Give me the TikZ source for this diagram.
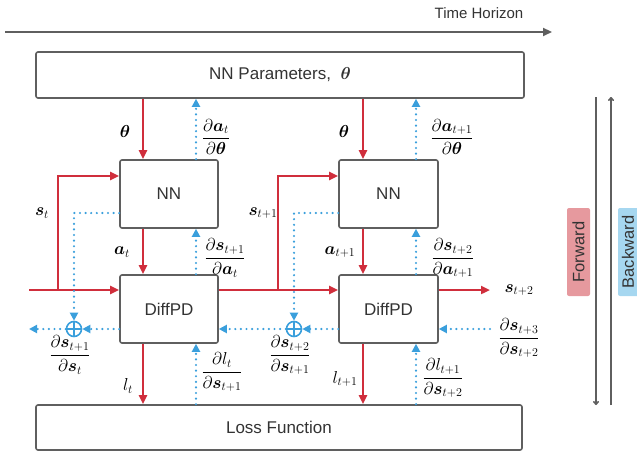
\documentclass[tikz,border=0pt]{standalone}
\usepackage{amsmath}
\usepackage{bm}
\usepackage{fontspec}
\setmainfont{Liberation Sans}
\usetikzlibrary{arrows.meta}
\definecolor{fred}{HTML}{D02E3C}
\definecolor{bblue}{HTML}{3A9FDC}
\definecolor{boxgray}{HTML}{5F5F5F}
\definecolor{txtgray}{HTML}{333333}
\definecolor{fpink}{HTML}{E6999E}
\definecolor{bsky}{HTML}{A6D7F0}
\tikzset{
  box/.style={draw=boxgray, line width=1.6pt, rounded corners=2pt, fill=white, inner sep=0pt,
    font=\fontsize{17}{19}\selectfont, text=txtgray},
  fw/.style={draw=fred, line width=2.6pt, -{Triangle[length=9pt,width=8pt]}},
  bw/.style={draw=bblue, line width=2.4pt, dash pattern=on 0pt off 5.6pt, line cap=round,
    -{Triangle[length=8pt,width=8pt]}},
  oplus/.style={circle, draw=bblue, line width=1.6pt, minimum size=15pt, inner sep=0pt,
    path picture={\draw[bblue,line width=1.6pt] (path picture bounding box.north) -- (path picture bounding box.south)
      (path picture bounding box.west) -- (path picture bounding box.east);}},
  lab/.style={font=\fontsize{17.28}{19}\selectfont, text=black, inner sep=0pt},
  dirbox/.style={rounded corners=2pt, minimum width=23pt, minimum height=88pt, inner sep=0pt},
  dirlab/.style={rotate=90, inner sep=0pt, font=\fontsize{16.5}{18}\selectfont, text=txtgray},
  timear/.style={draw=boxgray, line width=2.6pt, -{Triangle[length=9pt,width=8pt]}},
  dirar/.style={draw=boxgray, line width=1.6pt, -{To[length=4pt,width=6pt]}}
}
\begin{document}
\begin{tikzpicture}[x=1pt,y=-1pt]
\useasboundingbox (0,0) rectangle (637,452);

% time horizon
\coordinate (t0) at (5,32);
\coordinate (t1) at (552,32);
\draw[timear] (t0) -- (t1);
\node[font=\fontsize{15}{17}\selectfont, text=txtgray] (th) at (479,13) {Time Horizon};

% boxes
\node[box, minimum width=488pt, minimum height=46pt] (par) at (280,75) {NN Parameters,\; $\bm{\theta}$};
\node[box, minimum width=486pt, minimum height=45pt] (loss) at (279,427.5) {Loss Function};
\node[box, minimum width=98pt, minimum height=68pt] (nn1) at (169,194) {NN};
\node[box, minimum width=98pt, minimum height=68pt] (dp1) at (169,309) {DiffPD};
\node[box, minimum width=99pt, minimum height=68pt] (nn2) at (388.5,194) {NN};
\node[box, minimum width=99pt, minimum height=68pt] (dp2) at (388.5,309) {DiffPD};

% vertical columns
\coordinate (c1r) at (143,0);
\coordinate (c1b) at (196,0);
\coordinate (c2r) at (363,0);
\coordinate (c2b) at (416,0);

% column 1
\draw[fw] (c1r |- par.south) -- (c1r |- nn1.north);
\draw[bw] (c1b |- nn1.north) -- (c1b |- par.south);
\draw[fw] (c1r |- nn1.south) -- (c1r |- dp1.north);
\draw[bw] (c1b |- dp1.north) -- (c1b |- nn1.south);
\draw[fw] (c1r |- dp1.south) -- (c1r |- loss.north);
\draw[bw] (c1b |- loss.north) -- (c1b |- dp1.south);

% column 2
\draw[fw] (c2r |- par.south) -- (c2r |- nn2.north);
\draw[bw] (c2b |- nn2.north) -- (c2b |- par.south);
\draw[fw] (c2r |- nn2.south) -- (c2r |- dp2.north);
\draw[bw] (c2b |- dp2.north) -- (c2b |- nn2.south);
\draw[fw] (c2r |- dp2.south) -- (c2r |- loss.north);
\draw[bw] (c2b |- loss.north) -- (c2b |- dp2.south);

% forward state line
\coordinate (sin) at (29,290);
\coordinate (j1) at (58,290);
\coordinate (k1) at (58,176);
\coordinate (j2) at (278,290);
\coordinate (k2) at (278,176);
\coordinate (sout) at (490,290);
\draw[fw] (sin) -- (sin -| dp1.west);
\draw[fw] (j1) -- (k1) -- (k1 -| nn1.west);
\draw[fw] (j2 -| dp1.east) -- (j2 -| dp2.west);
\draw[fw] (j2) -- (k2) -- (k2 -| nn2.west);
\draw[fw] (sout -| dp2.east) -- (sout);

% backward
\coordinate (m1) at (74,213);
\coordinate (m2) at (294,213);
\node[oplus] (o1) at (74,329) {};
\node[oplus] (o2) at (294,329) {};
\coordinate (bout) at (29,329);
\coordinate (bin) at (490,329);
\draw[bw] (m1 -| nn1.west) -- (m1) -- (o1.north);
\draw[bw] (o1 -| dp1.west) -- (o1.east);
\draw[bw] (o1.west) -- (bout);
\draw[bw] (m2 -| nn2.west) -- (m2) -- (o2.north);
\draw[bw] (o2 -| dp2.west) -- (o2.east);
\draw[bw] (o2.west) -- (o2 -| dp1.east);
\draw[bw] (bin) -- (bin -| dp2.east);

% labels
\node[lab] (lth1) at (125,131) {$\bm{\theta}$};
\node[lab] (lda1) at (216,137) {$\dfrac{\partial \bm{a}_t}{\partial \bm{\theta}}$};
\node[lab] (lst) at (42,213) {$\bm{s}_t$};
\node[lab] (lat) at (122,252) {$\bm{a}_t$};
\node[lab] (lds1) at (225,258) {$\dfrac{\partial \bm{s}_{t+1}}{\partial \bm{a}_t}$};
\node[lab] (lss1) at (70,355) {$\dfrac{\partial \bm{s}_{t+1}}{\partial \bm{s}_t}$};
\node[lab] (llt) at (128,386) {$l_t$};
\node[lab] (ldl1) at (222,372) {$\dfrac{\partial l_t}{\partial \bm{s}_{t+1}}$};
\node[lab] (lst1) at (263,213) {$\bm{s}_{t+1}$};
\node[lab] (lss2) at (290,355) {$\dfrac{\partial \bm{s}_{t+2}}{\partial \bm{s}_{t+1}}$};
\node[lab] (lth2) at (344,131) {$\bm{\theta}$};
\node[lab] (lda2) at (452,137) {$\dfrac{\partial \bm{a}_{t+1}}{\partial \bm{\theta}}$};
\node[lab] (lat1) at (340,252) {$\bm{a}_{t+1}$};
\node[lab] (lds2) at (453,258) {$\dfrac{\partial \bm{s}_{t+2}}{\partial \bm{a}_{t+1}}$};
\node[lab] (lst2) at (519,290) {$\bm{s}_{t+2}$};
\node[lab] (lss3) at (519,338) {$\dfrac{\partial \bm{s}_{t+3}}{\partial \bm{s}_{t+2}}$};
\node[lab] (llt1) at (345,379) {$l_{t+1}$};
\node[lab] (ldl2) at (443,378) {$\dfrac{\partial l_{t+1}}{\partial \bm{s}_{t+2}}$};

% forward / backward
\coordinate (fa) at (596,97);
\coordinate (fb) at (596,405);
\coordinate (ba) at (611,405);
\coordinate (bb) at (611,97);
\draw[dirar] (fa) -- (fb);
\draw[dirar] (ba) -- (bb);
\node[dirbox, fill=fpink] (fwdbox) at (578.5,252) {};
\node[dirlab] (fwd) at (fwdbox.center) {Forward};
\node[dirbox, fill=bsky] (bwdbox) at (629.5,252) {};
\node[dirlab] (bwd) at ([xshift=-1.5pt]bwdbox.center) {Backward};
\end{tikzpicture}
\end{document}
